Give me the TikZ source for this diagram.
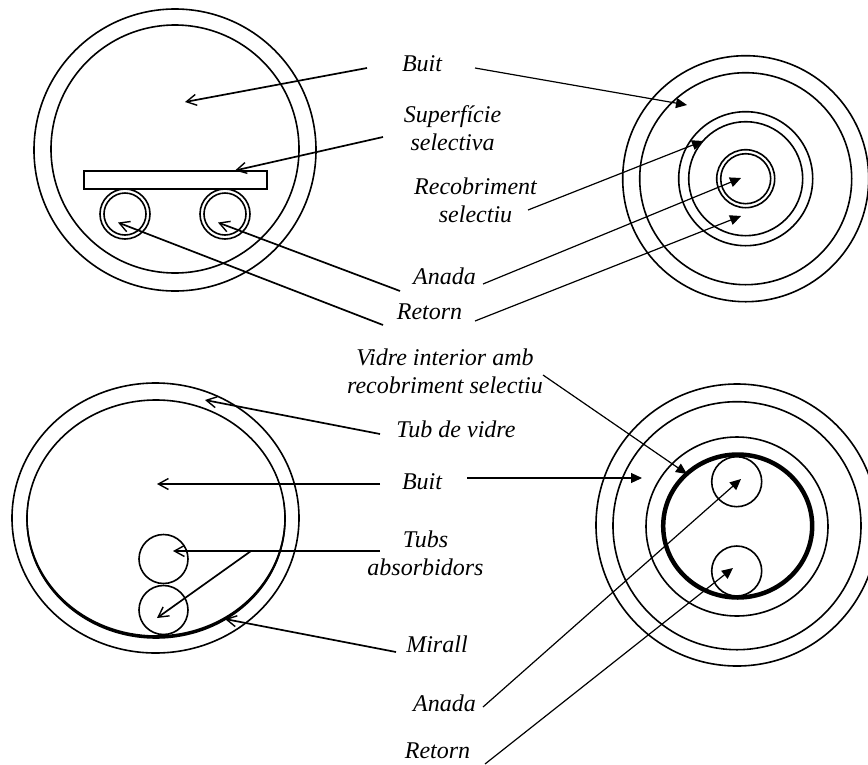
\documentclass[tikz,border=0pt]{standalone}
\usepackage{fontspec}
\setmainfont{Liberation Serif}
\usetikzlibrary{arrows.meta}
\tikzset{
  lbl/.style={align=center,inner sep=0pt,anchor=base,font=\fontsize{24}{28}\selectfont\itshape},
  ring/.style={draw=black,line width=1.6pt},
  openarrow/.style={draw=black,line width=1.7pt,-{Straight Barb[length=10pt,width=11pt,line width=1.4pt]}},
  fillarrow/.style={draw=black,line width=1.2pt,-{Triangle[length=11pt,width=10pt]}}
}
\begin{document}
\begin{tikzpicture}[x=1pt,y=-1pt]
\useasboundingbox (0,0) rectangle (868,764);
% top left
\draw[ring] (175,150) circle [radius=141];
\draw[ring] (175,149) circle [radius=124];
\draw[ring,line width=1.9pt] (84,171) rectangle (267,189);
\foreach \cx in {125,225}{
  \draw[ring] (\cx,214) circle [radius=25];
  \draw[ring] (\cx,214) circle [radius=21];
}
% top right
\foreach \r in {123,106,67,57,29,25}{
  \draw[ring] (745.7,178.7) circle [radius=\r];
}
% bottom left
\draw[ring] (155.5,518) ellipse [x radius=143.5,y radius=135];
\draw[ring] (156,518.5) ellipse [x radius=129,y radius=118.5];
\fill plot[domain=-8:192,samples=70,smooth] ({156+(129+0.7+1.1*sin(\x))*cos(\x)},{518.5+(118.5+0.7+1.1*sin(\x))*sin(\x)})
  -- plot[domain=192:-8,samples=70,smooth] ({156+(129-0.7-1.1*sin(\x))*cos(\x)},{518.5+(118.5-0.7-1.1*sin(\x))*sin(\x)}) -- cycle;
\draw[ring] (163.5,559) circle [radius=24.5];
\draw[ring] (163.5,610) circle [radius=24.5];
% bottom right
\draw[ring] (737,525) circle [radius=141];
\draw[ring] (737,525.7) circle [radius=124];
\draw[ring] (737,526.5) ellipse [x radius=91,y radius=89.5];
\draw[draw=black,line width=4.5pt] (737.7,526) ellipse [x radius=74.5,y radius=71.5];
\draw[ring] (736.7,481.7) circle [radius=25];
\draw[ring] (736.7,571) circle [radius=25];
% labels
\node[lbl] (buitA) at (422,71) {Buit};
\node[lbl] (sup) at (452.5,150.7) {Superfície\\selectiva};
\node[lbl] (rec) at (475.5,222.7) {Recobriment\\selectiu};
\node[lbl] (anA) at (444.5,284) {Anada};
\node[lbl] (retA) at (429.5,319) {Retorn};
\node[lbl] (vid) at (445,393) {Vidre interior amb\\recobriment selectiu};
\node[lbl] (tub) at (456,437) {Tub de vidre};
\node[lbl] (buitB) at (422,489) {Buit};
\node[lbl] (tubs) at (425.5,575) {Tubs\\absorbidors};
\node[lbl] (mir) at (437,652) {Mirall};
\node[lbl] (anB) at (444.5,711) {Anada};
\node[lbl] (retB) at (437.5,758.5) {Retorn};
% connector ends
\coordinate (s1) at (367,68);   \coordinate (t1) at (185,102);
\coordinate (s2) at (383,137);  \coordinate (t2) at (235,170.5);
\coordinate (s3) at (400,291);  \coordinate (t3) at (218,222.5);
\coordinate (s4) at (383,325);  \coordinate (t4) at (118,222.5);
\coordinate (s5) at (475,68);   \coordinate (t5) at (687,105);
\coordinate (s6) at (528,210);  \coordinate (t6) at (703,141);
\coordinate (s7) at (483,284);  \coordinate (t7) at (741,178);
\coordinate (s8) at (475,321);  \coordinate (t8) at (741,216);
\coordinate (s9) at (380,434);  \coordinate (t9) at (205,400);
\coordinate (s10) at (380,484); \coordinate (t10) at (157,484);
\coordinate (s11) at (380,551); \coordinate (t11) at (173,551);
\coordinate (s12) at (251,551); \coordinate (t12) at (157,618);
\coordinate (s13) at (396,652); \coordinate (t13) at (225,619);
\coordinate (s14) at (543,375); \coordinate (t14) at (687,474);
\coordinate (s15) at (467,478); \coordinate (t15) at (642,478);
\coordinate (s16) at (483,707); \coordinate (t16) at (741,479);
\coordinate (s17) at (485,764); \coordinate (t17) at (733,568);
% connectors
\foreach \i in {1,2,3,4,9,10,11,12,13}{\draw[openarrow] (s\i) -- (t\i);}
\foreach \i in {5,6,7,8,14,15,16,17}{\draw[fillarrow] (s\i) -- (t\i);}
\end{tikzpicture}
\end{document}
